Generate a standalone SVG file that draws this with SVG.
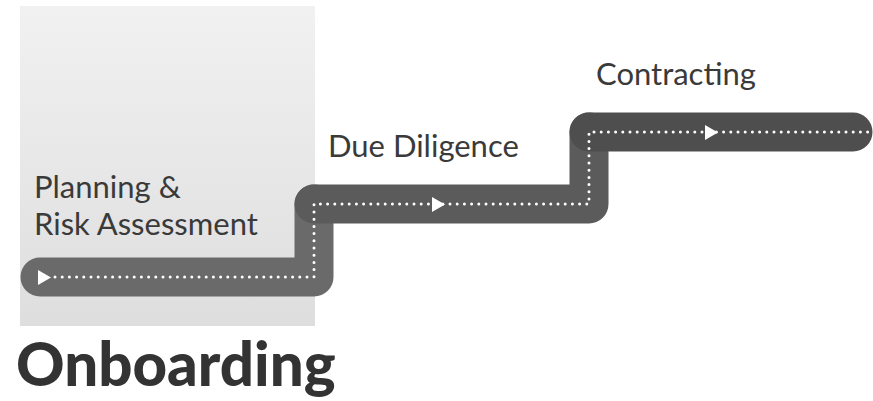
<svg xmlns="http://www.w3.org/2000/svg" width="873" height="401" viewBox="0 0 873 401">
  <defs>
    <linearGradient id="panelFill" x1="0" y1="0" x2="0" y2="1">
      <stop offset="0" stop-color="#f1f1f1"/>
      <stop offset="1" stop-color="#dedede"/>
    </linearGradient>
    <style>
      .lane { fill: none; stroke-width: 39; stroke-linecap: round; stroke-linejoin: round; }
      .dots { fill: none; stroke: #ffffff; stroke-width: 3; stroke-linecap: round; stroke-dasharray: 0 7.2; }
      .arrow { fill: #ffffff; }
      .label { font-family: Lato, "Liberation Sans", sans-serif; font-size: 31px; fill: #3a3a3a; }
      .title { font-family: Lato, "Liberation Sans", sans-serif; font-size: 60px; font-weight: 900; fill: #333333; }
    </style>
  </defs>

  <!-- highlighted first phase -->
  <rect id="phase-panel" x="20" y="6" width="295" height="320" fill="url(#panelFill)"/>

  <g id="connectors">
    <path class="lane" stroke="#6a6a6a" d="M40 277 H314 V204"/>
    <path class="lane" stroke="#5b5b5b" d="M314 204 H589 V132"/>
    <path class="lane" stroke="#4e4e4e" d="M589 132 H853"/>
    <path class="dots" d="M55 277 H314 V204 H589 V132 H873"/>
  </g>

  <g id="step-planning">
    <polygon class="arrow" points="38,270 38,285 51,277.5"/>
    <text class="label" x="34" y="198">Planning &amp;</text>
    <text class="label" x="34" y="235">Risk Assessment</text>
  </g>

  <g id="step-due-diligence">
    <polygon class="arrow" points="432,197 432,212 445,204.5"/>
    <text class="label" x="328" y="157">Due Diligence</text>
  </g>

  <g id="step-contracting">
    <polygon class="arrow" points="705,125 705,140 718,132.5"/>
    <text class="label" x="596" y="85">Contracting</text>
  </g>

  <g id="title">
    <text class="title" x="16" y="386">Onboarding</text>
  </g>
</svg>
